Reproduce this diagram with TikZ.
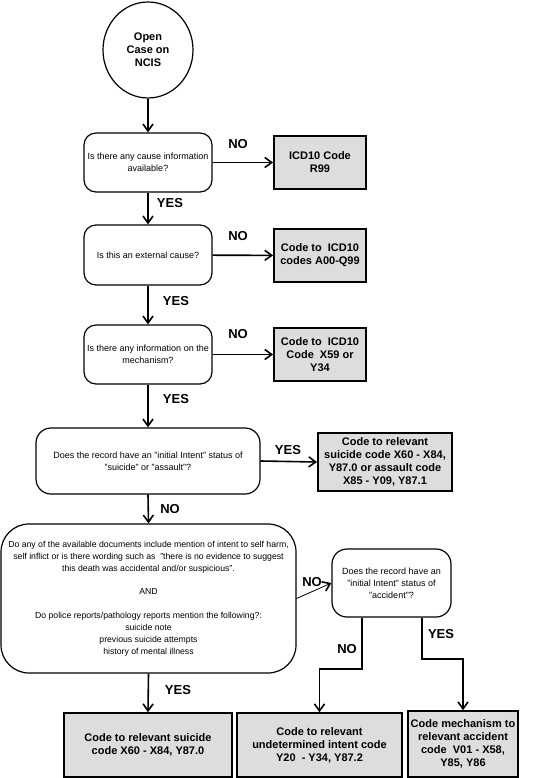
\documentclass[tikz,border=0pt]{standalone}
\usepackage{fontspec}
\setmainfont{Liberation Sans}
\usetikzlibrary{shapes.geometric,arrows.meta,calc}
\definecolor{boxgray}{RGB}{221,221,221}
\begin{document}
\begin{tikzpicture}[x=1pt,y=-1pt,
  q/.style={draw,line width=1.2pt,rounded corners=12pt,align=center,font=\fontsize{9}{12}\selectfont,inner sep=0pt},
  code/.style={draw,line width=1.8pt,fill=boxgray,align=center,font=\bfseries\fontsize{11}{13}\selectfont,inner sep=0pt},
  lbl/.style={font=\bfseries\fontsize{13}{13}\selectfont,inner sep=0pt},
  arr/.style={line width=1.6pt,-{Straight Barb[length=7pt,width=10pt,line width=1.6pt]}},
  thinarr/.style={line width=0.8pt,-{Straight Barb[length=7pt,width=10pt,line width=1.6pt]}}]
\useasboundingbox (0,0) rectangle (555,778);

\node[ellipse,draw,line width=1.2pt,minimum width=90pt,minimum height=96pt,inner sep=0pt,align=center,font=\bfseries\fontsize{11}{13}\selectfont] (start) at (148,50) {Open\\Case on\\NCIS};

\node[q,minimum width=128pt,minimum height=59pt] (q1) at (148,162.5) {Is there any cause information\\available?};
\node[code,minimum width=92pt,minimum height=53pt] (c1) at (320,162.5) {ICD10 Code\\R99};

\node[q,minimum width=128pt,minimum height=60pt] (q2) at (148,255) {Is this an external cause?};
\node[code,minimum width=92pt,minimum height=53pt] (c2) at (320,255.5) {Code to\ \ ICD10\\codes A00-Q99};

\node[q,minimum width=128pt,minimum height=59pt] (q3) at (148,354.5) {Is there any information on the\\mechanism?};
\node[code,minimum width=92pt,minimum height=53pt] (c3) at (320,354.5) {Code to\ \ ICD10\\Code\ \ X59 or\\Y34};

\node[q,rounded corners=15pt,minimum width=224pt,minimum height=66pt] (q4) at (148,461) {Does the record have an "initial Intent" status of\\"suicide" or "assault"?};
\node[code,minimum width=134pt,minimum height=58pt] (c4) at (385,462) {Code to relevant\\suicide code X60 - X84,\\Y87.0 or assault code\\X85 - Y09, Y87.1};

\node[q,rounded corners=28pt,minimum width=295pt,minimum height=149pt,font=\fontsize{8.7}{12}\selectfont] (q5) at (148.5,598.5) {Do any of the available documents include mention of intent to self harm,\\self inflict or is there wording such as\ \ "there is no evidence to suggest\\this death was accidental and/or suspicious".\\[11pt]AND\\[12pt]Do police reports/pathology reports mention the following?:\\suicide note\\previous suicide attempts\\history of mental illness};

\node[q,rounded corners=15pt,minimum width=119pt,minimum height=68pt] (q6) at (391.5,583) {Does the record have an\\"initial Intent" status of\\"accident"?};

\node[code,line width=1.5pt,minimum width=168pt,minimum height=64pt] (b1) at (148,745) {Code to relevant suicide\\code X60 - X84, Y87.0};
\node[code,line width=1.5pt,minimum width=165pt,minimum height=64pt] (b2) at (319.5,745) {Code to relevant\\undetermined intent code\\Y20\ \ - Y34, Y87.2};
\node[code,line width=1.5pt,minimum width=110pt,minimum height=66pt] (b3) at (463,744) {Code mechanism to\\relevant accident\\code\ \ V01 - X58,\\Y85, Y86};

\draw[arr] (start) -- (q1);
\draw[arr] (q1) -- (c1);
\draw[arr] (q1) -- (q2);
\draw[arr] (q2) -- (c2);
\draw[arr] (q2) -- (q3);
\draw[arr] (q3) -- (c3);
\draw[arr] (q3.south) -- (q4.north);
\draw[arr] (q4.east) -- (c4.west);
\draw[arr] (q4.south) -- (q5.north);
\draw[thinarr] (q5.east) -- (q6.west);
\draw[arr] (q5.south) -- (b1.north);
\draw[arr] ([xshift=-29.5pt]q6.south) |- ($(b2.north)+(0,-43)$) -- (b2.north);
\draw[arr] ([xshift=30.5pt]q6.south) |- ($(b3.north)+(0,-51)$) -- (b3.north);

\node[lbl] (n1) at (238,144) {NO};
\node[lbl] (y1) at (170,203) {YES};
\node[lbl] (n2) at (238,236.5) {NO};
\node[lbl] (y2) at (176,301) {YES};
\node[lbl] (n3) at (238,334) {NO};
\node[lbl] (y3) at (176,399) {YES};
\node[lbl] (y4) at (288,450) {YES};
\node[lbl] (n4) at (170,509) {NO};
\node[lbl] (n5) at (312,582) {NO};
\node[lbl] (n6) at (347,649) {NO};
\node[lbl] (y6) at (441,634) {YES};
\node[lbl] (y5) at (178,690) {YES};
\end{tikzpicture}
\end{document}
